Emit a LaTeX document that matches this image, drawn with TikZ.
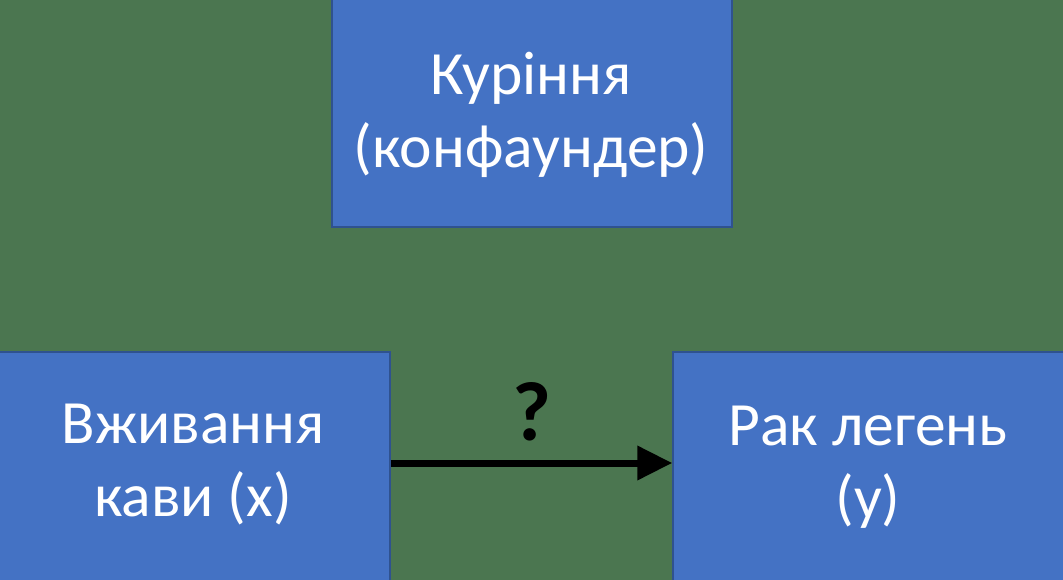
\documentclass[tikz,border=0pt]{standalone}
\usepackage{fontspec}
\setmainfont{Carlito}
\usetikzlibrary{arrows.meta}
\definecolor{bgc}{HTML}{4B7650}
\definecolor{boxfill}{HTML}{4472C4}
\definecolor{boxline}{HTML}{2F528F}
\tikzset{
  box/.style={draw=boxline, line width=1.5pt, fill=boxfill, inner sep=0pt},
  lbl/.style={text=white, align=center, anchor=base, inner sep=0pt,
    font=\fontsize{61.5pt}{73pt}\selectfont},
  conn/.style={line width=7pt, -{Triangle[length=35pt,width=33pt]}}
}
\begin{document}
\begin{tikzpicture}[x=1pt,y=-1pt]
\fill[bgc] (0,0) rectangle (1063,580);
\useasboundingbox (0,0) rectangle (1063,580);
% boxes
\node[box, minimum width=400pt, minimum height=231pt] (conf) at (532,111.5) {};
\node[box, minimum width=392pt, minimum height=230pt] (xbox) at (194,467) {};
\node[box, minimum width=392pt, minimum height=230pt] (ybox) at (869,467) {};
% labels (base = baseline of last line)
\node[lbl] (conft) at (531,168) {Куріння\\(конфаундер)};
\node[lbl] (xt) at (193,516) {Вживання\\кави (х)};
\node[lbl] (yt) at (868,518) {Рак легень\\(у)};
% arrow
\coordinate (ay) at (0,463);
\draw[conn] (xbox.east |- ay) -- (ybox.west |- ay);
\node[anchor=base, inner sep=0pt, font=\bfseries\fontsize{84pt}{100pt}\selectfont] (q) at (532,440) {?};
\end{tikzpicture}
\end{document}
